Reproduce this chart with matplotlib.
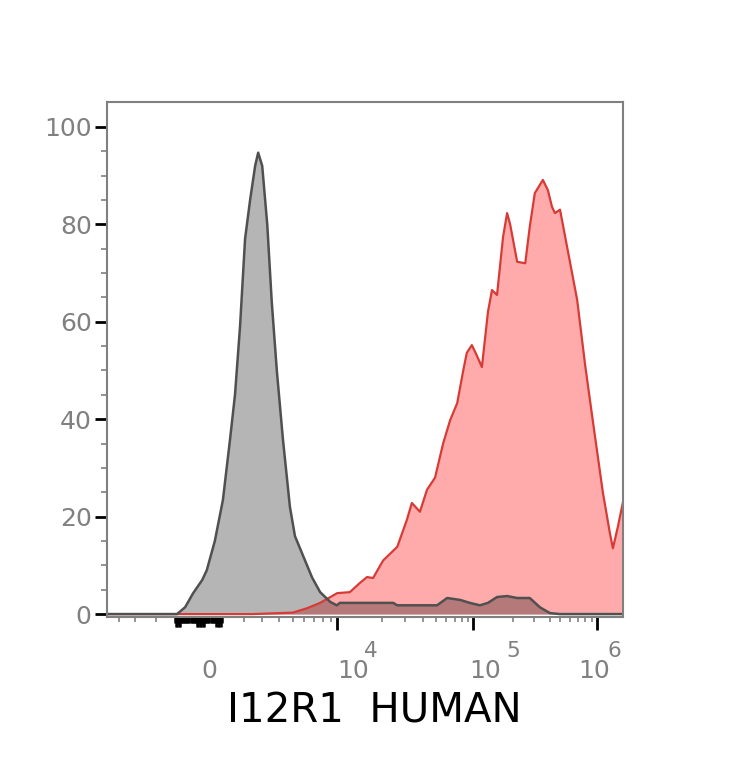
import numpy as np
import matplotlib
matplotlib.use("Agg")
import matplotlib.pyplot as plt

# histogram data on a 0-1024 display channel axis (logicle-like)
GRAY_CH = [0, 139, 155, 171, 189, 198, 214, 230, 244, 254, 264, 274, 284, 294, 300,
           308, 318, 327, 337, 349, 363, 373, 389, 407, 423, 443, 456, 462, 568, 576,
           655, 675, 701, 720, 740, 756, 774, 794, 814, 839, 859, 879, 899, 1024]
GRAY_VAL = [0, 0, 1.4, 4.3, 7, 9, 15, 23.4, 35.7, 45, 59, 77, 85, 92, 94.7,
            92, 80, 64, 50, 36, 22, 16, 12, 7.5, 4.5, 2.5, 1.8, 2.3, 2.3, 1.8,
            1.8, 3.3, 2.9, 2.3, 1.8, 2.3, 3.5, 3.7, 3.3, 3.3, 1.4, 0.2, 0, 0]

RED_CH = [0, 290, 369, 397, 423, 457, 482, 502, 516, 528, 548, 576, 595, 605, 621,
          635, 651, 667, 681, 695, 707, 714, 724, 732, 744, 756, 764, 774, 786, 794,
          800, 814, 830, 839, 849, 865, 875, 883, 889, 899, 913, 933, 949, 965, 984,
          998, 1004, 1014, 1024]
RED_VAL = [0, 0, 0.3, 1.2, 2.3, 4.3, 4.5, 6.4, 7.6, 7.4, 11, 13.8, 19.3, 22.8, 21,
           25.5, 28, 35, 39.8, 43.3, 50, 53.6, 55.2, 53.5, 50.7, 62, 66.5, 65.5, 77.4, 82.3,
           80, 72.3, 72, 79.5, 86.4, 89.1, 87, 83.6, 82.3, 83, 75.4, 64.5, 51, 39, 25,
           16.6, 13.5, 18, 23]

# axis ticks (channel positions)
ZERO_CH = 198.5
DECADE_CH = [456.5, 726.3, 972.4]
DECADE_EXP = ["4", "5", "6"]
LABEL_LEFT_CH = [456.4, 718.4, 934.7]
EXP_LEFT_CH = [510.0, 791.8, 994.2]
MINOR_CH = [24, 56, 97, 272, 308, 341, 369, 391, 411, 429, 445,
            546, 591, 627, 653, 673, 691, 705, 716,
            806, 847, 879, 899, 919, 935, 949, 963]
DENSE_CH = list(np.arange(135, 229, 2.2))
DENSE_LONG_CH = [136, 139, 142, 145, 178, 181, 184, 187, 190, 193, 217, 220, 223, 226]

fig = plt.figure(figsize=(7.34, 7.68), dpi=100)
ax = fig.add_axes([107 / 734, 151 / 768, 516 / 734, 515 / 768])

ax.fill_between(RED_CH, RED_VAL, 0, color="red", alpha=0.33, lw=0)
ax.plot(RED_CH, RED_VAL, color="#d83a36", lw=1.6)
ax.fill_between(GRAY_CH, GRAY_VAL, 0, color="black", alpha=0.29, lw=0)
ax.plot(GRAY_CH, GRAY_VAL, color="#505050", lw=1.8)

ax.set_xlim(0, 1024)
ax.set_ylim(-0.6, 105.1)

for s in ax.spines.values():
    s.set_color("#808080")
    s.set_linewidth(1.5)

gray = "#808080"
ax.set_yticks(range(0, 101, 20))
ax.set_yticks([v for v in range(0, 101, 5) if v % 20], minor=True)
ax.tick_params(axis="y", which="major", length=9, width=2, color="black",
               labelcolor=gray, labelsize=18, pad=2)
ax.tick_params(axis="y", which="minor", length=4.5, width=1.2, color=gray)

ax.set_xticks(DECADE_CH)
ax.set_xticklabels([])
ax.set_xticks(MINOR_CH, minor=True)
ax.tick_params(axis="x", which="major", length=9, width=2, color="black")
ax.tick_params(axis="x", which="minor", length=3.8, width=1.2, color=gray)

# dense ticks around zero
sec = ax.secondary_xaxis("bottom")
sec.spines["bottom"].set_visible(False)
sec.set_xticks(DENSE_LONG_CH)
sec.set_xticklabels([])
sec.set_xticks(DENSE_CH, minor=True)
sec.tick_params(which="major", length=7.5, width=1.8, color="black")
sec.tick_params(which="minor", length=4.5, width=1.8, color="black")

# tick labels
trans = ax.get_xaxis_transform()
ax.text(ZERO_CH + 5, -0.1184, "0", transform=trans, ha="center", va="baseline",
        fontsize=18, color=gray)
for lx, ex, e in zip(LABEL_LEFT_CH, EXP_LEFT_CH, DECADE_EXP):
    ax.text(lx, -0.1184, "10", transform=trans, ha="left", va="baseline",
            fontsize=18, color=gray)
    ax.text(ex, -0.0777, e, transform=trans, ha="left", va="baseline",
            fontsize=15.5, color=gray)

ax.text(0.518, -0.204, "I12R1  HUMAN", transform=ax.transAxes, ha="center",
        va="baseline", fontsize=29, color="black")

fig.savefig("out.png", dpi=100)
